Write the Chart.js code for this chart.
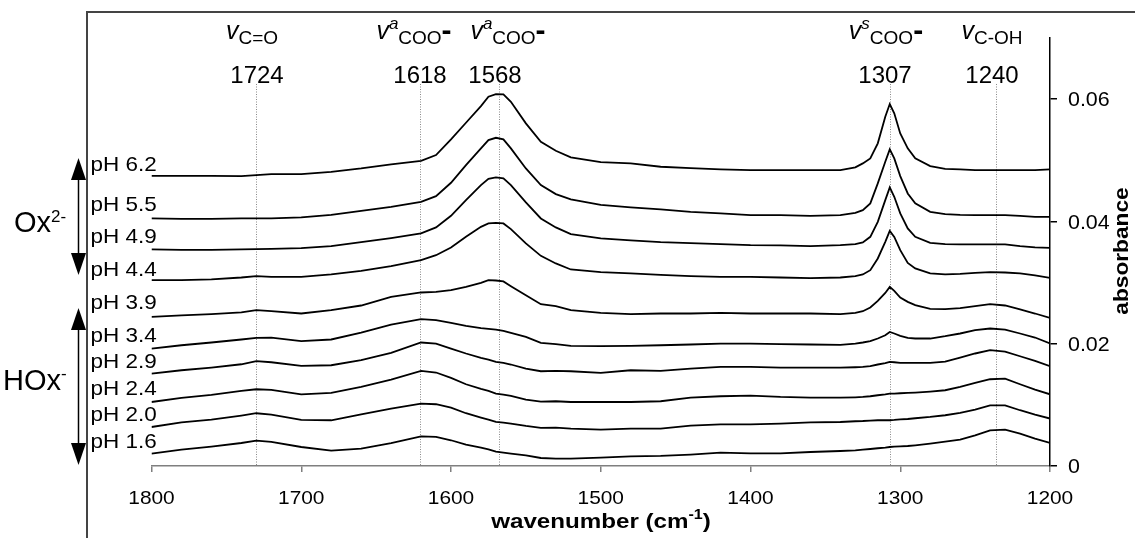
<!DOCTYPE html>
<html>
<head>
<meta charset="utf-8">
<script src="https://cdn.jsdelivr.net/npm/chart.js@4.4.1/dist/chart.umd.min.js"></script>
<style>
  html, body { margin: 0; padding: 0; background: #fff; }
  #wrap { width: 1135px; height: 538px; }
</style>
</head>
<body>
<div id="wrap"><canvas id="chart" width="1135" height="538"></canvas></div>
<script>
// wavenumber grid (cm-1), shared by all spectra
const wavenumbers = [1800, 1780, 1760, 1740, 1730, 1720, 1700, 1680, 1660, 1640,
    1620, 1610, 1600, 1590, 1580, 1575, 1570, 1565, 1560, 1550,
    1540, 1530, 1520, 1500, 1480, 1460, 1440, 1420, 1400, 1380,
    1360, 1340, 1330, 1325, 1320, 1315, 1310, 1307, 1304, 1300,
    1295, 1290, 1280, 1270, 1260, 1250, 1240, 1230, 1220, 1210,
    1200];

const pH62 = [0.04746, 0.04746, 0.04746, 0.04741, 0.04758, 0.04774, 0.04774, 0.04812, 0.04867, 0.04933,
    0.04992, 0.05085, 0.05342, 0.05614, 0.05887, 0.06039, 0.06083, 0.06079, 0.05957, 0.05604,
    0.05303, 0.05155, 0.05047, 0.04971, 0.04949, 0.04894, 0.04872, 0.04851, 0.04840, 0.04840,
    0.04840, 0.04840, 0.04884, 0.04949, 0.05031, 0.05277, 0.05712, 0.05920, 0.05768, 0.05440,
    0.05195, 0.05031, 0.04905, 0.04861, 0.04851, 0.04840, 0.04840, 0.04840, 0.04840, 0.04840,
    0.04851];
const pH55 = [0.04049, 0.04043, 0.04043, 0.04049, 0.04049, 0.04049, 0.04065, 0.04108, 0.04173, 0.04239,
    0.04321, 0.04414, 0.04632, 0.04921, 0.05195, 0.05331, 0.05368, 0.05342, 0.05195, 0.04867,
    0.04594, 0.04447, 0.04360, 0.04272, 0.04229, 0.04196, 0.04157, 0.04131, 0.04103, 0.04103,
    0.04092, 0.04103, 0.04141, 0.04185, 0.04295, 0.04622, 0.04975, 0.05178, 0.05031, 0.04741,
    0.04458, 0.04295, 0.04157, 0.04119, 0.04108, 0.04103, 0.04103, 0.04103, 0.04092, 0.04075,
    0.04075];
const pH49 = [0.03542, 0.03535, 0.03535, 0.03542, 0.03547, 0.03552, 0.03563, 0.03596, 0.03661, 0.03727,
    0.03804, 0.03902, 0.04092, 0.04349, 0.04594, 0.04697, 0.04720, 0.04704, 0.04594, 0.04311,
    0.04049, 0.03902, 0.03792, 0.03722, 0.03689, 0.03661, 0.03645, 0.03628, 0.03612, 0.03607,
    0.03596, 0.03612, 0.03628, 0.03656, 0.03748, 0.03993, 0.04349, 0.04556, 0.04403, 0.04131,
    0.03885, 0.03748, 0.03650, 0.03628, 0.03624, 0.03624, 0.03624, 0.03624, 0.03596, 0.03574,
    0.03568];
const pH44 = [0.03039, 0.03039, 0.03051, 0.03083, 0.03105, 0.03093, 0.03093, 0.03133, 0.03191, 0.03268,
    0.03367, 0.03448, 0.03574, 0.03748, 0.03912, 0.03967, 0.03977, 0.03967, 0.03874, 0.03640,
    0.03437, 0.03313, 0.03214, 0.03170, 0.03149, 0.03126, 0.03105, 0.03093, 0.03093, 0.03083,
    0.03072, 0.03083, 0.03105, 0.03133, 0.03203, 0.03394, 0.03666, 0.03846, 0.03748, 0.03530,
    0.03322, 0.03231, 0.03149, 0.03133, 0.03142, 0.03159, 0.03170, 0.03165, 0.03149, 0.03116,
    0.03077];
const pH39 = [0.02439, 0.02462, 0.02483, 0.02511, 0.02548, 0.02532, 0.02494, 0.02548, 0.02625, 0.02766,
    0.02838, 0.02848, 0.02876, 0.02930, 0.02995, 0.03039, 0.03034, 0.03018, 0.02941, 0.02794,
    0.02646, 0.02614, 0.02548, 0.02504, 0.02483, 0.02494, 0.02494, 0.02504, 0.02494, 0.02494,
    0.02494, 0.02483, 0.02504, 0.02532, 0.02592, 0.02700, 0.02830, 0.02930, 0.02864, 0.02756,
    0.02684, 0.02630, 0.02570, 0.02565, 0.02581, 0.02614, 0.02646, 0.02625, 0.02560, 0.02494,
    0.02422];
const pH34 = [0.01921, 0.01975, 0.02020, 0.02069, 0.02095, 0.02101, 0.02041, 0.02069, 0.02183, 0.02314,
    0.02401, 0.02385, 0.02340, 0.02291, 0.02254, 0.02242, 0.02232, 0.02209, 0.02177, 0.02111,
    0.02013, 0.01992, 0.01964, 0.01959, 0.01964, 0.01975, 0.01987, 0.02003, 0.02003, 0.01992,
    0.01987, 0.01980, 0.02003, 0.02020, 0.02041, 0.02085, 0.02139, 0.02193, 0.02167, 0.02128,
    0.02095, 0.02085, 0.02085, 0.02123, 0.02167, 0.02221, 0.02249, 0.02232, 0.02167, 0.02101,
    0.02003];
const pH29 = [0.01512, 0.01566, 0.01610, 0.01664, 0.01714, 0.01697, 0.01637, 0.01648, 0.01730, 0.01849,
    0.02020, 0.02003, 0.01921, 0.01840, 0.01768, 0.01741, 0.01702, 0.01686, 0.01660, 0.01594,
    0.01550, 0.01555, 0.01550, 0.01522, 0.01566, 0.01555, 0.01594, 0.01620, 0.01620, 0.01610,
    0.01610, 0.01610, 0.01615, 0.01620, 0.01632, 0.01660, 0.01681, 0.01702, 0.01697, 0.01686,
    0.01686, 0.01686, 0.01686, 0.01708, 0.01774, 0.01840, 0.01894, 0.01872, 0.01795, 0.01718,
    0.01632];
const pH24 = [0.01047, 0.01113, 0.01162, 0.01227, 0.01255, 0.01244, 0.01173, 0.01195, 0.01293, 0.01414,
    0.01555, 0.01529, 0.01440, 0.01337, 0.01260, 0.01227, 0.01185, 0.01169, 0.01146, 0.01087,
    0.01054, 0.01059, 0.01047, 0.01047, 0.01047, 0.01059, 0.01119, 0.01141, 0.01152, 0.01129,
    0.01119, 0.01119, 0.01124, 0.01129, 0.01141, 0.01157, 0.01173, 0.01185, 0.01185, 0.01190,
    0.01195, 0.01201, 0.01218, 0.01239, 0.01293, 0.01358, 0.01419, 0.01430, 0.01337, 0.01250,
    0.01173];
const pH20 = [0.00638, 0.00715, 0.00759, 0.00825, 0.00863, 0.00841, 0.00753, 0.00748, 0.00846, 0.00939,
    0.01021, 0.01010, 0.00956, 0.00863, 0.00792, 0.00759, 0.00720, 0.00710, 0.00694, 0.00655,
    0.00622, 0.00628, 0.00612, 0.00596, 0.00612, 0.00612, 0.00661, 0.00682, 0.00682, 0.00694,
    0.00715, 0.00720, 0.00732, 0.00736, 0.00743, 0.00748, 0.00748, 0.00748, 0.00753, 0.00764,
    0.00769, 0.00781, 0.00802, 0.00830, 0.00867, 0.00923, 0.00993, 0.00993, 0.00912, 0.00841,
    0.00776];
const pH16 = [0.00203, 0.00268, 0.00318, 0.00376, 0.00416, 0.00393, 0.00311, 0.00252, 0.00285, 0.00376,
    0.00486, 0.00475, 0.00421, 0.00350, 0.00301, 0.00273, 0.00236, 0.00219, 0.00203, 0.00175,
    0.00131, 0.00121, 0.00121, 0.00137, 0.00159, 0.00164, 0.00187, 0.00219, 0.00208, 0.00208,
    0.00229, 0.00245, 0.00257, 0.00268, 0.00278, 0.00290, 0.00301, 0.00311, 0.00318, 0.00322,
    0.00327, 0.00339, 0.00367, 0.00399, 0.00432, 0.00502, 0.00584, 0.00596, 0.00530, 0.00448,
    0.00376];

const spectra = [pH62, pH55, pH49, pH44, pH39, pH34, pH29, pH24, pH20, pH16];
const phLabels = ['pH 6.2', 'pH 5.5', 'pH 4.9', 'pH 4.4', 'pH 3.9', 'pH 3.4', 'pH 2.9', 'pH 2.4', 'pH 2.0', 'pH 1.6'];

const xTickValues = [1800, 1700, 1600, 1500, 1400, 1300, 1200];
const xTickLabels = ['1800', '1700', '1600', '1500', '1400', '1300', '1200'];
const yTickValues = [0, 0.02, 0.04, 0.06];
const yTickLabels = ['0', '0.02', '0.04', '0.06'];

// marked bands: dotted line position and the number printed above it
const bandLines = [1730, 1621, 1568, 1307, 1236];
const bandNumbers = ['1724', '1618', '1568', '1307', '1240'];

const FONT = "'Liberation Sans', Arial, sans-serif";

// layout of the hand drawn labels (pixels)
const phLabelBaselines = [171, 211, 243, 276, 309, 342, 368, 395, 421, 448];
const numberCenters = [257, 420, 495, 885, 992];
const symbolCenters = [252, 414, 508, 886, 992];

// draws a run of differently styled pieces, optionally stretched sideways
function drawParts(ctx, parts, x, baseline, align, sx) {
    sx = sx || 1;
    let w = 0;
    parts.forEach(function (p) {
        ctx.font = p.font;
        w += ctx.measureText(p.t).width;
    });
    let start = 0;
    if (align === 'center') start = -w / 2;
    if (align === 'right') start = -w;
    ctx.save();
    ctx.textAlign = 'left';
    ctx.textBaseline = 'alphabetic';
    ctx.translate(x, baseline);
    ctx.scale(sx, 1);
    let cx = start;
    parts.forEach(function (p) {
        ctx.font = p.font;
        ctx.fillText(p.t, cx, p.dy || 0);
        cx += ctx.measureText(p.t).width;
    });
    ctx.restore();
}

function bandSymbol(sup, sub, charge) {
    let parts = [{t: 'v', font: 'italic 25px ' + FONT, dy: -5}];
    if (sup) parts.push({t: sup, font: 'italic 17px ' + FONT, dy: -15});
    parts.push({t: sub, font: '19px ' + FONT, dy: 0});
    if (charge) parts.push({t: '-', font: 'bold 30px ' + FONT, dy: -4});
    return parts;
}

const bandSymbols = [
    bandSymbol('', 'C=O', false),
    bandSymbol('a', 'COO', true),
    bandSymbol('a', 'COO', true),
    bandSymbol('s', 'COO', true),
    bandSymbol('', 'C-OH', false),
];

function doubleArrow(ctx, x, yTop, yBottom) {
    let head = 22, half = 7.5;
    ctx.save();
    ctx.strokeStyle = '#000';
    ctx.fillStyle = '#000';
    ctx.lineWidth = 1.5;
    ctx.beginPath();
    ctx.moveTo(x, yTop + head - 2);
    ctx.lineTo(x, yBottom - head + 2);
    ctx.stroke();
    ctx.beginPath();
    ctx.moveTo(x, yTop);
    ctx.lineTo(x - half, yTop + head);
    ctx.lineTo(x + half, yTop + head);
    ctx.closePath();
    ctx.fill();
    ctx.beginPath();
    ctx.moveTo(x, yBottom);
    ctx.lineTo(x - half, yBottom - head);
    ctx.lineTo(x + half, yBottom - head);
    ctx.closePath();
    ctx.fill();
    ctx.restore();
}

const bandPlugin = {
    id: 'bandLines',
    beforeDatasetsDraw: function (chart) {
        let ctx = chart.ctx;
        let xs = chart.scales.x;
        let bottom = chart.chartArea.bottom;
        ctx.save();
        ctx.strokeStyle = '#8a8a8a';
        ctx.lineWidth = 1;
        ctx.setLineDash([1, 1.5]);
        bandLines.forEach(function (w) {
            let px = Math.round(xs.getPixelForValue(w)) + 0.5;
            ctx.beginPath();
            ctx.moveTo(px, 84);
            ctx.lineTo(px, bottom);
            ctx.stroke();
        });
        ctx.restore();
    },
    afterDraw: function (chart) {
        let ctx = chart.ctx;
        let xs = chart.scales.x;
        let ys = chart.scales.y;
        ctx.save();

        // outer frame (top and left edges)
        ctx.strokeStyle = '#444';
        ctx.lineWidth = 2;
        ctx.beginPath();
        ctx.moveTo(87, 538);
        ctx.lineTo(87, 12);
        ctx.lineTo(1135, 12);
        ctx.stroke();

        ctx.fillStyle = '#000';

        // tick labels
        xTickValues.forEach(function (v, i) {
            drawParts(ctx, [{t: xTickLabels[i], font: '19px ' + FONT}], xs.getPixelForValue(v), 503.5, 'center', 1.1);
        });
        yTickValues.forEach(function (v, i) {
            drawParts(ctx, [{t: yTickLabels[i], font: '20px ' + FONT}], 1068, ys.getPixelForValue(v) + 7.2, 'left', 1.07);
        });

        // band numbers and symbols
        bandNumbers.forEach(function (t, i) {
            drawParts(ctx, [{t: t, font: '24px ' + FONT}], numberCenters[i], 82.5, 'center');
        });
        bandSymbols.forEach(function (parts, i) {
            drawParts(ctx, parts, symbolCenters[i], 43.5, 'center');
        });

        // pH labels
        phLabels.forEach(function (t, i) {
            drawParts(ctx, [{t: t, font: '21px ' + FONT}], 90.5, phLabelBaselines[i], 'left', 1.07);
        });

        // species arrows
        doubleArrow(ctx, 78.5, 158, 275);
        doubleArrow(ctx, 78.5, 308, 465);
        drawParts(ctx, [
            {t: 'Ox', font: '29px ' + FONT},
            {t: '2-', font: '17px ' + FONT, dy: -10},
        ], 14, 231.5, 'left');
        drawParts(ctx, [
            {t: 'HOx', font: '29px ' + FONT},
            {t: '-', font: '17px ' + FONT, dy: -11},
        ], 3, 390, 'left');

        // axis titles
        drawParts(ctx, [
            {t: 'wavenumber (cm', font: 'bold 21px ' + FONT},
            {t: '-1', font: 'bold 14px ' + FONT, dy: -9},
            {t: ')', font: 'bold 21px ' + FONT},
        ], 601, 528, 'center', 1.15);

        ctx.translate(1128, 251);
        ctx.rotate(-Math.PI / 2);
        drawParts(ctx, [{t: 'absorbance', font: 'bold 21px ' + FONT}], 0, 0, 'center', 1.08);
        ctx.restore();
    }
};

const datasets = spectra.map(function (values, i) {
    return {
        label: phLabels[i],
        data: wavenumbers.map(function (w, j) {
            return {x: w, y: values[j]};
        }),
        borderColor: '#000',
        borderWidth: 1.8,
        pointRadius: 0,
        fill: false,
        tension: 0,
    };
});

new Chart(document.getElementById('chart'), {
    type: 'line',
    data: {datasets: datasets},
    options: {
        responsive: false,
        animation: false,
        events: [],
        layout: {padding: {left: 151.5, right: 0, top: 38, bottom: 0}},
        plugins: {
            legend: {display: false},
            tooltip: {enabled: false},
            title: {display: false},
        },
        scales: {
            x: {
                type: 'linear',
                position: 'bottom',
                reverse: true,
                min: 1200,
                max: 1800,
                afterBuildTicks: function (scale) {
                    scale.ticks = xTickValues.map(function (v) { return {value: v}; });
                },
                ticks: {display: false},
                grid: {drawOnChartArea: false, drawTicks: true, tickLength: 6, color: '#7f7f7f', lineWidth: 1.5},
                border: {display: true, color: '#7f7f7f', width: 1.5},
                afterFit: function (scale) { scale.height = 72; },
            },
            y: {
                type: 'linear',
                position: 'right',
                min: 0,
                max: 0.07,
                afterBuildTicks: function (scale) {
                    scale.ticks = yTickValues.map(function (v) { return {value: v}; });
                },
                ticks: {display: false},
                grid: {drawOnChartArea: false, drawTicks: true, tickLength: 7, color: '#000', lineWidth: 1.5},
                border: {display: true, color: '#000', width: 1.5},
                afterFit: function (scale) { scale.width = 85; },
            },
        },
    },
    plugins: [bandPlugin],
});
</script>
</body>
</html>
